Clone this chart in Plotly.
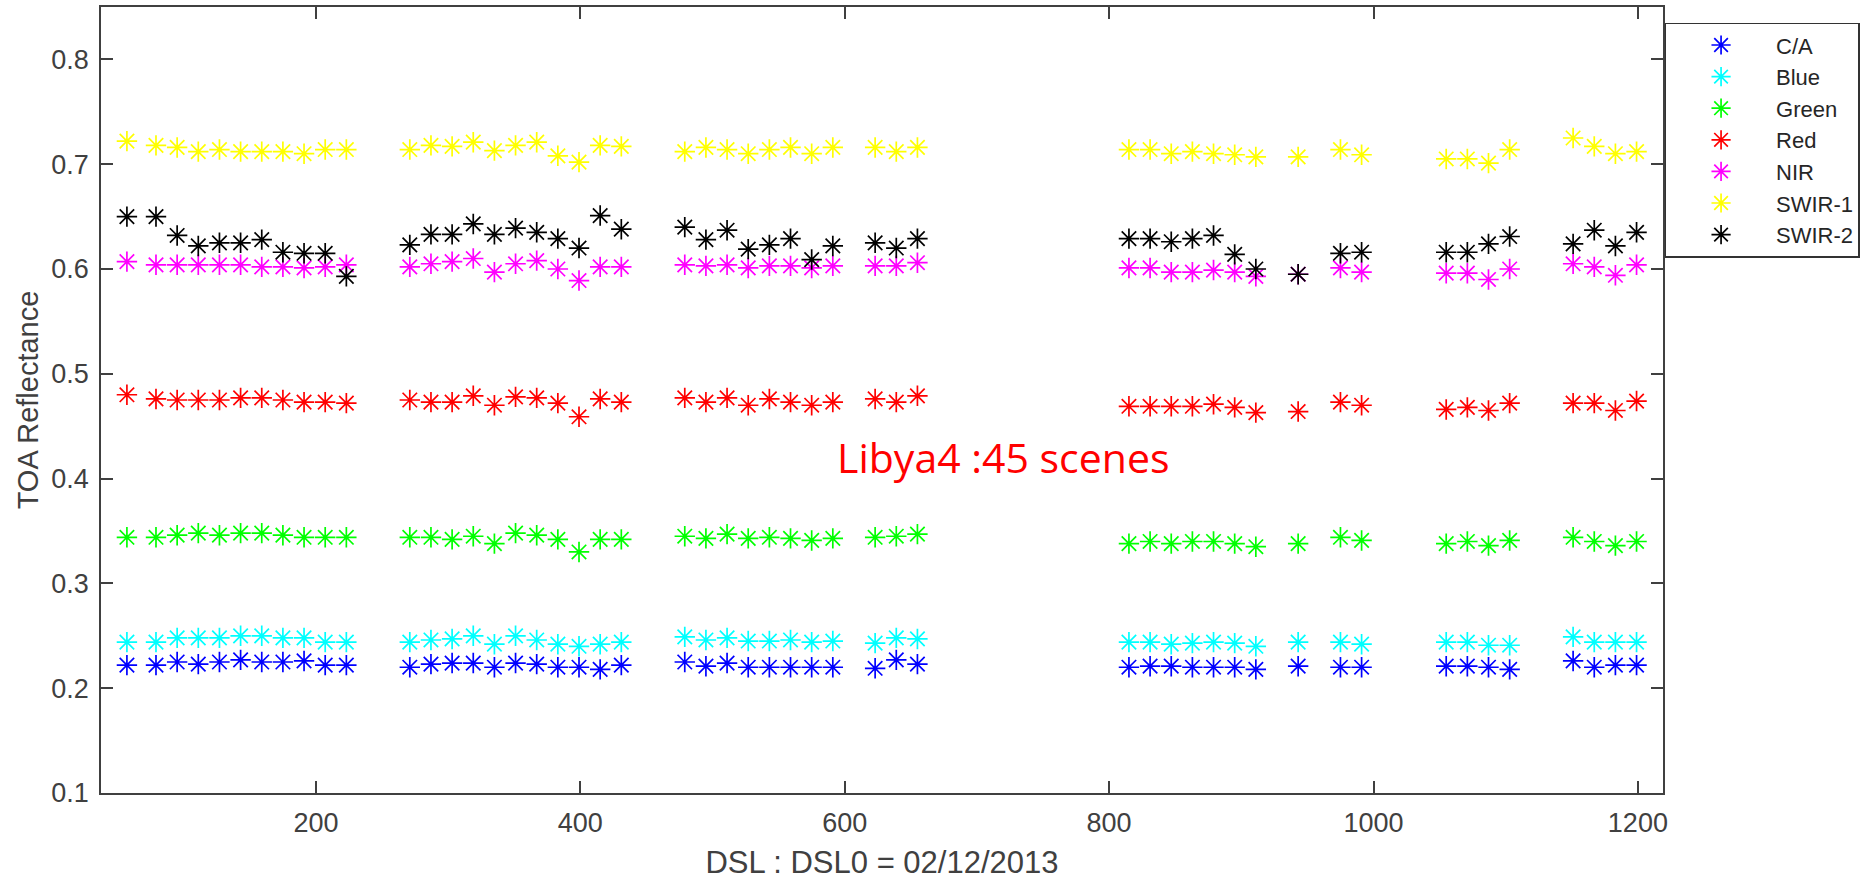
import plotly.graph_objects as go

# ---- data ----
dsl = [57, 79, 95, 111, 127, 143, 159, 175, 191, 207, 223,
       271, 287, 303, 319, 335, 351, 367, 383, 399, 415, 431,
       479, 495, 511, 527, 543, 559, 575, 591, 623, 639, 655,
       815, 831, 847, 863, 879, 895, 911, 943,
       975, 991,
       1055, 1071, 1087, 1103,
       1151, 1167, 1183, 1199]

ca = [0.222, 0.222, 0.225, 0.223, 0.225, 0.227, 0.225, 0.225, 0.226, 0.222, 0.222,
      0.220, 0.223, 0.224, 0.224, 0.220, 0.224, 0.223, 0.220, 0.220, 0.218, 0.222,
      0.225, 0.221, 0.224, 0.220, 0.220, 0.220, 0.220, 0.220, 0.219, 0.227, 0.223,
      0.220, 0.221, 0.221, 0.220, 0.220, 0.220, 0.218, 0.221,
      0.220, 0.220,
      0.221, 0.221, 0.220, 0.218,
      0.226, 0.220, 0.222, 0.222]

blue = [0.244, 0.244, 0.248, 0.248, 0.248, 0.250, 0.250, 0.248, 0.248, 0.244, 0.244,
        0.244, 0.246, 0.247, 0.250, 0.242, 0.250, 0.246, 0.242, 0.240, 0.242, 0.244,
        0.249, 0.246, 0.248, 0.245, 0.245, 0.246, 0.244, 0.245, 0.243, 0.248, 0.247,
        0.244, 0.244, 0.242, 0.243, 0.244, 0.243, 0.240, 0.244,
        0.244, 0.242,
        0.244, 0.244, 0.241, 0.241,
        0.249, 0.244, 0.244, 0.244]

green = [0.344, 0.344, 0.346, 0.348, 0.346, 0.348, 0.348, 0.346, 0.344, 0.344, 0.344,
         0.344, 0.344, 0.342, 0.345, 0.338, 0.348, 0.346, 0.342, 0.330, 0.342, 0.342,
         0.345, 0.343, 0.347, 0.343, 0.344, 0.343, 0.341, 0.343, 0.344, 0.345, 0.347,
         0.338, 0.340, 0.338, 0.340, 0.340, 0.338, 0.335, 0.338,
         0.344, 0.341,
         0.338, 0.340, 0.336, 0.341,
         0.344, 0.340, 0.336, 0.340]

red = [0.480, 0.476, 0.475, 0.475, 0.475, 0.477, 0.477, 0.475, 0.473, 0.473, 0.472,
       0.475, 0.473, 0.473, 0.479, 0.470, 0.478, 0.477, 0.472, 0.459, 0.476, 0.473,
       0.477, 0.473, 0.477, 0.470, 0.476, 0.473, 0.470, 0.473, 0.476, 0.473, 0.479,
       0.469, 0.469, 0.469, 0.469, 0.471, 0.468, 0.463, 0.464,
       0.473, 0.470,
       0.466, 0.468, 0.465, 0.472,
       0.472, 0.472, 0.465, 0.474]

nir = [0.607, 0.604, 0.604, 0.604, 0.604, 0.604, 0.602, 0.602, 0.601, 0.602, 0.604,
       0.602, 0.605, 0.607, 0.610, 0.597, 0.605, 0.608, 0.600, 0.589, 0.602, 0.602,
       0.604, 0.603, 0.604, 0.601, 0.603, 0.603, 0.601, 0.603, 0.603, 0.603, 0.606,
       0.601, 0.601, 0.597, 0.597, 0.599, 0.597, 0.593, 0.595,
       0.601, 0.597,
       0.596, 0.596, 0.590, 0.600,
       0.605, 0.602, 0.594, 0.604]

swir1 = [0.722, 0.718, 0.716, 0.712, 0.714, 0.712, 0.712, 0.712, 0.710, 0.714, 0.714,
         0.714, 0.718, 0.717, 0.721, 0.713, 0.718, 0.721, 0.708, 0.702, 0.718, 0.717,
         0.712, 0.716, 0.714, 0.710, 0.714, 0.716, 0.710, 0.716, 0.716, 0.712, 0.716,
         0.714, 0.714, 0.710, 0.712, 0.710, 0.709, 0.707, 0.707,
         0.714, 0.709,
         0.705, 0.705, 0.701, 0.714,
         0.725, 0.717, 0.710, 0.712]

swir2 = [0.650, 0.650, 0.632, 0.622, 0.625, 0.625, 0.628, 0.616, 0.615, 0.615, 0.593,
         0.623, 0.633, 0.633, 0.643, 0.633, 0.639, 0.635, 0.629, 0.620, 0.651, 0.638,
         0.640, 0.628, 0.637, 0.619, 0.623, 0.629, 0.609, 0.622, 0.625, 0.620, 0.629,
         0.629, 0.629, 0.626, 0.629, 0.632, 0.614, 0.600, 0.595,
         0.615, 0.616,
         0.616, 0.616, 0.624, 0.631,
         0.624, 0.637, 0.622, 0.635]

band_names = ["C/A", "Blue", "Green", "Red", "NIR", "SWIR-1", "SWIR-2"]
band_values = [ca, blue, green, red, nir, swir1, swir2]
band_colors = ["#0000FF", "#00FFFF", "#00FF00", "#FF0000", "#FF00FF", "#FFFF00", "#000000"]

x_ticks = [200, 400, 600, 800, 1000, 1200]
y_ticks = [0.1, 0.2, 0.3, 0.4, 0.5, 0.6, 0.7, 0.8]

annotation_text = "Libya4 :45 scenes"
x_title = "DSL : DSL0 = 02/12/2013"
y_title = "TOA Reflectance"

# ---- figure ----
fig = go.Figure()
for name, vals, col in zip(band_names, band_values, band_colors):
    fig.add_trace(go.Scatter(
        x=dsl, y=vals, mode="markers", name=name,
        marker=dict(symbol="asterisk-open", size=17, color=col,
                    line=dict(color=col, width=1.7)),
    ))

axis_col = "#404040"
font_fam = "Liberation Sans, Arial, sans-serif"

fig.update_layout(
    width=1874, height=880,
    margin=dict(l=101, r=211, t=7, b=87, autoexpand=False),
    paper_bgcolor="white", plot_bgcolor="white",
    font=dict(family=font_fam, color=axis_col),
    showlegend=True,
    legend=dict(
        x=1.001, y=0.980, xanchor="left", yanchor="top",
        bgcolor="white", bordercolor="#333333", borderwidth=1.5,
        font=dict(family=font_fam, size=22, color="#262626"),
        itemwidth=100, tracegroupgap=0,
    ),
    annotations=[dict(
        x=720, y=0.421, xref="x", yref="y", text=annotation_text,
        showarrow=False, font=dict(family="Open Sans, sans-serif", size=41, color="#FF0000"),
    )],
)

fig.update_xaxes(
    range=[37.4, 1219], tickvals=x_ticks, ticktext=[str(v) for v in x_ticks],
    showline=True, linecolor=axis_col, linewidth=1.5, mirror="ticks",
    ticks="inside", ticklen=12, tickwidth=1.5, tickcolor=axis_col,
    showgrid=False, zeroline=False,
    tickfont=dict(family=font_fam, size=27, color=axis_col),
    ticklabelstandoff=5,
    title=dict(text=x_title, font=dict(family=font_fam, size=31, color=axis_col), standoff=17),
)
fig.update_yaxes(
    range=[0.1, 0.85], tickvals=y_ticks, ticktext=[f"{v:.1f}" for v in y_ticks],
    showline=True, linecolor=axis_col, linewidth=1.5, mirror="ticks",
    ticks="inside", ticklen=12, tickwidth=1.5, tickcolor=axis_col,
    showgrid=False, zeroline=False,
    tickfont=dict(family=font_fam, size=27, color=axis_col),
    ticklabelstandoff=5,
    title=dict(text=y_title, font=dict(family=font_fam, size=29, color=axis_col), standoff=4),
)

fig.write_html("out.html", config={"displayModeBar": False},
               post_script="document.body.style.margin='0px';")
